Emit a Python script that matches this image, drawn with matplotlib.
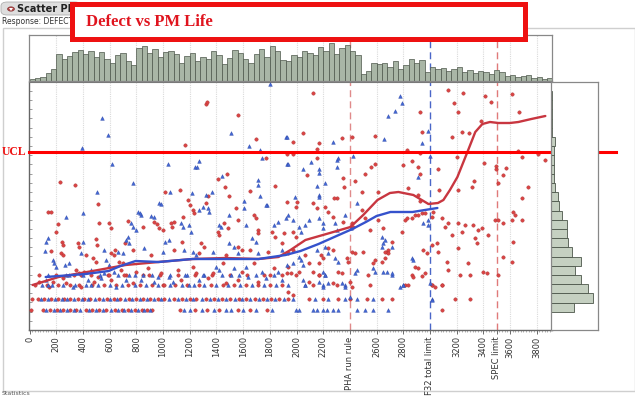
import matplotlib
matplotlib.use("Agg")
import matplotlib.pyplot as plt
from matplotlib.patches import Rectangle, FancyBboxPatch, Circle, Polygon
import numpy as np

W, H = 635, 397

# ---------------- data ----------------
# bottom row of discrete defects
red_r1_x = [7, 100, 150, 205, 250, 300, 345, 420, 470, 520, 575, 640, 690, 735, 790, 840, 880, 920,
            1130, 1240, 1330, 1420, 1560, 1650, 1780, 3093]
blue_r1_x = [125, 180, 230, 280, 330, 380, 445, 500, 550, 610, 665, 710, 760, 815, 860, 900, 1160, 1200,
             1290, 1380, 1470, 1510, 1600, 1700, 1820, 1993, 2015, 2120, 2157, 2195, 2232, 2270, 2314,
             2457, 2517, 2577, 2689]
row1_y = 20
red_r2_x = [20, 60, 110, 160, 215, 260, 300, 360, 410, 455, 520, 580, 630, 680, 745, 800, 850, 905, 960,
            1010, 1080, 1140, 1200, 1250, 1320, 1380, 1440, 1500, 1570, 1620, 1690, 1750, 1810, 1870,
            1940, 2090, 2195, 2314, 2404, 2532, 2644, 2719, 3191, 3303]
blue_r2_x = [85, 135, 190, 240, 280, 330, 390, 435, 490, 550, 605, 655, 715, 770, 825, 880, 935, 985,
             1045, 1110, 1170, 1225, 1290, 1350, 1410, 1470, 1540, 1595, 1655, 1720, 1780, 1840, 1905,
             1970, 2142, 2239, 2367, 2457, 2577, 3018]
row2_y = 31
red_r3_x = [40, 130, 210, 300, 370, 470, 560, 650, 740, 830, 920, 1000, 1090, 1180, 1270, 1360, 1450,
            1530, 1620, 1710, 1800, 1890, 2127, 2307, 2554, 2816, 3018, 3093]
blue_r3_x = [90, 170, 250, 340, 420, 510, 600, 690, 790, 870, 960, 1050, 1140, 1230, 1310, 1400, 1490,
             1580, 1670, 1760, 1850, 1940, 2067, 2202, 2367, 2801]
row3_y = 45
red_r4_x = [70, 200, 330, 460, 590, 720, 850, 980, 1110, 1240, 1370, 1500, 1630, 1760, 1890, 2165, 2539,
            3228, 3303, 3513]
blue_r4_x = [140, 270, 400, 530, 660, 790, 920, 1050, 1180, 1310, 1440, 1570, 1700, 1830, 2217, 2719]
row4_y = 55

red_pts = [
    (225, 148), (337, 145), (1318, 226), (1330, 228), (1565, 215), (1161, 185), (1693, 191), (1932, 176),
    (1775, 172), (1408, 151), (1476, 156), (1842, 144), (1461, 143), (1011, 138), (1124, 140), (1648, 139),
    (1333, 134), (1491, 134), (1183, 130), (509, 126), (1198, 125),
    (2120, 237), (3138, 240), (3251, 237), (3183, 227), (3213, 218), (3416, 234), (3461, 228), (3618, 236),
    (3670, 218), (2929, 218), (3386, 209), (3243, 198), (3296, 197), (2944, 198), (3168, 193), (2592, 194),
    (2045, 197), (1970, 188), (1977, 176), (2165, 187), (2344, 192), (2419, 193), (2157, 181), (2831, 180),
    (2929, 177), (3663, 179), (3693, 173), (3813, 176), (3865, 170), (2157, 172), (2592, 166), (2562, 163),
    (2082, 155), (2352, 152), (2442, 149), (2517, 156), (2801, 165), (2869, 169), (2914, 163), (2929, 156),
    (3063, 161), (3206, 173), (3408, 167), (3498, 164), (3498, 161), (3573, 162), (3551, 155), (3333, 149),
    (3213, 140), (3513, 147), (3738, 143), (3693, 132), (3071, 140), (2839, 142), (2494, 138), (2614, 138),
    (2359, 143), (2307, 132), (2284, 132), (2000, 128), (2914, 135), (2929, 129), (3318, 143),
    (135, 118), (157, 118), (210, 106), (195, 98), (240, 88), (247, 85), (157, 79), (232, 77), (247, 75),
    (360, 87), (367, 83), (345, 60), (382, 55), (404, 58), (472, 72), (494, 68), (494, 91), (502, 85),
    (517, 107), (607, 77), (629, 75), (667, 68), (697, 67), (712, 87), (592, 107), (607, 102), (734, 109),
    (846, 103), (929, 108), (951, 106), (966, 102), (996, 100), (1056, 107), (1079, 108), (1064, 103),
    (1146, 113), (1221, 120), (1228, 117), (1318, 127), (1281, 87), (1303, 83), (1139, 88), (1408, 98),
    (1416, 95), (1453, 107), (1483, 102), (1543, 122), (1565, 110), (1565, 83), (1595, 80), (1678, 115),
    (1693, 112), (1708, 100), (1715, 97), (1820, 98), (1842, 93), (1895, 87), (1903, 97),
    (67, 48), (142, 43), (172, 48), (247, 52), (270, 47), (367, 57), (382, 43), (479, 48), (509, 53),
    (592, 55), (607, 50), (682, 60), (704, 55), (771, 47), (794, 58), (884, 62), (891, 55), (981, 57),
    (1004, 45), (1109, 60), (1131, 50), (1221, 63), (1243, 57), (1333, 52), (1371, 57), (1446, 67),
    (1468, 47), (1565, 50), (1595, 58), (1678, 67), (1708, 48), (1805, 55), (1828, 62), (1932, 57), (1940, 63),
    (419, 75), (637, 80), (771, 80), (906, 75), (1079, 80), (1266, 77), (1468, 75), (1655, 80), (1783, 78),
    (1932, 128), (1993, 123), (1977, 98), (1993, 93), (2127, 127), (2157, 122), (2217, 123), (2239, 118),
    (2277, 113), (2352, 108), (2419, 107), (2427, 103), (2494, 120), (2517, 112), (2554, 100), (2614, 110),
    (2652, 102), (2682, 78), (2689, 80), (2719, 88), (2794, 98), (2816, 110), (2831, 112), (2869, 112),
    (2891, 115), (2914, 115), (2944, 117), (2966, 117), (3026, 118), (3018, 113), (3093, 112), (3116, 103),
    (3138, 107), (3168, 95), (3213, 107), (3243, 98), (3266, 105), (3326, 105), (3341, 92), (3363, 100),
    (3393, 102), (3438, 95), (3491, 110), (3513, 110), (3551, 107), (3618, 110), (3641, 115), (3693, 110),
    (3626, 118), (3626, 88), (3213, 82), (3356, 87), (3018, 85), (3056, 87), (3063, 78), (3131, 68),
    (3138, 60), (3288, 67), (3401, 58), (3431, 57), (3551, 73), (3618, 68), (3018, 45), (3041, 43),
    (3093, 45), (2944, 54), (2966, 57), (2869, 55), (2876, 53), (2891, 63), (2914, 62), (2951, 80),
    (2981, 77), (2839, 45), (2667, 78), (2689, 77), (2644, 68), (2667, 72), (2592, 70), (2577, 67),
    (2502, 78), (2419, 78), (2442, 77), (2419, 43), (2314, 58), (2344, 57), (2382, 72), (2389, 68),
    (2239, 82), (2270, 80), (2180, 75), (2202, 72), (2165, 67), (2120, 58), (2165, 55), (2067, 75),
    (2090, 67), (1955, 57), (1993, 55), (2015, 58), (1940, 77), (1977, 80), (2090, 48), (2270, 47),
    (2404, 48), (1940, 38), (1977, 35),
]
blue_pts = [
    (539, 212), (584, 195), (390, 182), (614, 166), (502, 138), (771, 147), (1506, 197), (1805, 246),
    (1641, 184), (1730, 180), (1918, 193), (1932, 193), (1738, 172), (1932, 166), (1034, 166), (1266, 169),
    (1236, 163), (1251, 163), (1438, 154), (1708, 150), (1715, 145), (1049, 138), (1213, 137), (1363, 138),
    (1318, 135), (1730, 134), (1603, 129), (966, 127), (1782, 125),
    (2779, 234), (2794, 227), (2741, 219), (2689, 214), (2989, 199), (2944, 187), (2659, 191), (2270, 188),
    (2307, 170), (2314, 172), (2427, 174), (3004, 174), (1940, 166), (2105, 168), (2052, 161), (2165, 161),
    (2172, 157), (2300, 163), (2914, 153), (2457, 127), (2217, 147), (2157, 144), (2165, 135), (2172, 133),
    (1985, 133),
    (270, 113), (397, 117), (135, 92), (120, 88), (112, 79), (172, 70), (180, 67), (195, 63), (262, 65),
    (292, 67), (397, 88), (457, 60), (569, 70), (592, 65), (659, 78), (719, 90), (734, 93), (742, 87),
    (756, 107), (771, 103), (794, 100), (831, 115), (809, 118), (824, 117), (981, 126), (906, 114),
    (929, 113), (1011, 88), (1041, 90), (1131, 107), (1146, 103), (1191, 105), (1206, 98), (1266, 120),
    (1296, 123), (1333, 122), (1341, 118), (1221, 78), (1243, 75), (1416, 105), (1431, 103), (1491, 115),
    (1491, 87), (1528, 83), (1603, 122), (1618, 105), (1670, 92), (1693, 88), (1768, 125), (1828, 105),
    (1865, 108), (1918, 112), (1940, 115),
    (120, 50), (135, 45), (292, 55), (322, 43), (434, 50), (457, 45), (532, 52), (554, 57), (629, 58),
    (644, 43), (719, 50), (742, 55), (831, 50), (846, 55), (929, 48), (959, 53), (1041, 53), (1071, 48),
    (1168, 55), (1191, 45), (1266, 50), (1296, 55), (1393, 63), (1416, 60), (1506, 55), (1528, 62),
    (1618, 63), (1640, 53), (1745, 58), (1768, 52), (1865, 58), (1895, 50),
    (382, 77), (554, 80), (697, 77), (854, 82), (996, 78), (1154, 80), (1371, 78), (1558, 77), (1715, 77),
    (1895, 80),
    (1970, 110), (2015, 103), (2030, 98), (2067, 105), (2090, 110), (2165, 112), (2195, 107), (2202, 102),
    (2292, 107), (2307, 100), (2367, 115), (2412, 102), (2644, 93), (2667, 90), (2719, 83), (2951, 107),
    (2989, 110), (2989, 105), (3004, 47), (3018, 30), (2869, 72), (2876, 70), (2779, 43), (2801, 45),
    (2644, 83), (2652, 87), (2652, 58), (2682, 58), (2719, 57), (2577, 62), (2592, 58), (2442, 57),
    (2457, 60), (2404, 33), (2292, 72), (2314, 68), (2217, 83), (2239, 77), (2157, 80), (2195, 58),
    (2217, 55), (2015, 73), (2030, 70), (2052, 65), (1977, 67), (1932, 65), (2045, 50), (2067, 45),
    (2165, 48), (2202, 43), (2239, 47), (2344, 47), (2367, 43),
]

# smoother fit curves
red_fit_x = [22, 217, 472, 719, 966, 1221, 1468, 1715, 1865, 1955, 2067, 2250, 2404, 2500, 2607, 2700,
             2764, 2876, 2989, 3060, 3101, 3150, 3206, 3281, 3340, 3393, 3450, 3513, 3600, 3663, 3760, 3865]
red_fit_y = [45, 53, 59, 65, 68, 71, 72, 71, 73, 80, 90, 97, 103, 115, 130, 137, 138, 135, 126, 127,
             130, 140, 153, 178, 198, 206, 208, 207, 207, 208, 211, 214]
blue_fit_x = [120, 419, 592, 680, 794, 966, 1221, 1468, 1715, 1918, 2030, 2165, 2300, 2419, 2520, 2600,
              2704, 2869, 3056]
blue_fit_y = [53, 56, 59, 64, 69, 68, 71, 71, 71, 75, 79, 86, 94, 101, 108, 114, 118, 118, 122]

UCL = 178
ref_lines = [2400, 3000, 3500]
ref_colors = ['#e08a8a', '#4a66c8', '#e07a7a']

tick_vals = [0, 200, 400, 600, 800, 1000, 1200, 1400, 1600, 1800, 2000, 2200, 2400, 2600, 2800, 3000,
             3200, 3400, 3500, 3600, 3800]
tick_labels = ['0', '200', '400', '600', '800', '1000', '1200', '1400', '1600', '1800', '2000', '2200',
               'PHA run rule', '2600', '2800', 'F32 total limit', '3200', '3400', 'SPEC limit', '3600', '3800']

# marginal histogram of PM life (bin width 40)
top_bin_width = 40
top_counts = [2, 3, 4, 8, 12, 27, 22, 25, 29, 31,
              27, 30, 24, 29, 22, 18, 26, 28, 20, 16,
              33, 35, 28, 32, 24, 29, 30, 27, 18, 25,
              28, 20, 24, 22, 30, 26, 17, 23, 31, 28,
              22, 18, 27, 32, 24, 35, 30, 21, 20, 26,
              24, 30, 28, 26, 34, 30, 38, 27, 33, 36,
              30, 26, 7, 10, 18, 17, 18, 14, 20, 12,
              16, 22, 18, 21, 9, 14, 12, 13, 10, 12,
              14, 9, 11, 8, 10, 9, 7, 11, 9, 5,
              6, 4, 5, 6, 3, 4, 2, 3]
# marginal histogram of defects (bin height 9.2)
right_bin_start = 18.3
right_bin_height = 9.2
right_counts = [23, 42, 37, 30, 24, 30, 21, 17, 16, 16, 11, 8, 7, 4, 3, 3, 3, 3, 4, 1, 1, 1, 1, 1]

# ---------------- figure ----------------
fig = plt.figure(figsize=(W / 100, H / 100), dpi=100)
fig.patch.set_facecolor('white')


def fbox(x0, y0, x1, y1):
    return [x0 / W, 1 - y1 / H, (x1 - x0) / W, (y1 - y0) / H]


XMIN, XMAX = -5, 3915
YMIN, YMAX = 0, 248

ax = fig.add_axes(fbox(29, 82, 552, 330))
axt = fig.add_axes(fbox(29, 35, 552, 81))
axr = fig.add_axes(fbox(551, 82, 598, 330))

# scatter
for v in tick_vals:
    if v > 0 and v not in ref_lines:
        ax.axvline(v, color='#dadada', lw=0.8, ls=(0, (1, 1)), zorder=0)
        axt.axvline(v, color='#dadada', lw=0.8, ls=(0, (1, 1)), zorder=0)
for v, c in zip(ref_lines, ref_colors):
    ax.axvline(v, color=c, lw=1.0, ls=(0, (5, 3)), zorder=1)
    axt.axvline(v, color=c, lw=1.0, ls=(0, (5, 3)), zorder=0)

rx = red_r1_x + red_r2_x + red_r3_x + red_r4_x + [p[0] for p in red_pts]
ry = ([row1_y] * len(red_r1_x) + [row2_y] * len(red_r2_x) + [row3_y] * len(red_r3_x)
      + [row4_y] * len(red_r4_x) + [p[1] for p in red_pts])
bx = blue_r1_x + blue_r2_x + blue_r3_x + blue_r4_x + [p[0] for p in blue_pts]
by = ([row1_y] * len(blue_r1_x) + [row2_y] * len(blue_r2_x) + [row3_y] * len(blue_r3_x)
      + [row4_y] * len(blue_r4_x) + [p[1] for p in blue_pts])

ax.scatter(rx, ry, s=6, marker='o', facecolor='#d94444', edgecolor='#b03030', linewidths=0.3, zorder=3)
ax.scatter(bx, by, s=7, marker='^', facecolor='#4066d4', edgecolor='#2f48a8', linewidths=0.3, zorder=3)

ax.plot(red_fit_x, red_fit_y, color='#c83640', lw=1.7, zorder=4, solid_capstyle='round')
ax.plot(blue_fit_x, blue_fit_y, color='#3552cc', lw=1.7, zorder=4, solid_capstyle='round')

ax.axhline(UCL, xmin=0, xmax=(616 - 29) / (552 - 29), color='#ff0000', lw=2.2, clip_on=False, zorder=6)

ax.set_xlim(XMIN, XMAX)
ax.set_ylim(YMIN, YMAX)
ax.set_xticks(tick_vals)
ax.set_xticklabels(tick_labels, rotation=90, fontsize=6, color='#333333', family='DejaVu Sans')
ax.set_xticks(np.arange(0, 3901, 20), minor=True)
ax.tick_params(axis='x', which='major', length=3, width=0.6, color='#555555', pad=1.5)
ax.tick_params(axis='x', which='minor', length=1.5, width=0.4, color='#777777')
ax.set_yticks(np.arange(0, 248, 9.2))
ax.tick_params(axis='y', which='major', direction='in', length=2, width=0.5, color='#777777', labelleft=False)
for s in ['left', 'bottom']:
    ax.spines[s].set_color('#666666')
    ax.spines[s].set_linewidth(1.0)
ax.spines['top'].set_color('#777777')
ax.spines['top'].set_linestyle((0, (1, 1)))
ax.spines['right'].set_color('#888888')

# top histogram
top_edges = np.arange(len(top_counts)) * top_bin_width
axt.bar(top_edges, top_counts, width=top_bin_width, align='edge', color='#a9b6a6',
        edgecolor='#4c564a', linewidth=0.5, zorder=2)
axt.set_xlim(XMIN, XMAX)
axt.set_ylim(0, 46)
axt.set_xticks([])
axt.set_yticks([])
for s in axt.spines.values():
    s.set_color('#888888')
    s.set_linewidth(0.9)

# right histogram
r_edges = right_bin_start + np.arange(len(right_counts)) * right_bin_height
axr.barh(r_edges, right_counts, height=right_bin_height, align='edge', color='#c5d0c1',
         edgecolor='#4c564a', linewidth=0.6, zorder=2)
axr.set_ylim(YMIN, YMAX)
axr.set_xlim(0, 47)
axr.set_xticks([])
axr.set_yticks([])
for s in axr.spines.values():
    s.set_color('#888888')
    s.set_linewidth(0.9)

# outline frame of the report
fig.add_artist(Rectangle((3 / W, 1 - 391 / H), (W - 3) / W, (391 - 28) / H, transform=fig.transFigure,
                         fill=False, edgecolor='#cfcfcf', lw=1.0, zorder=0))

# header tab
fig.add_artist(FancyBboxPatch((1 / W, 1 - 15 / H), 80 / W, 13 / H, boxstyle='round,pad=0,rounding_size=0.01',
                              transform=fig.transFigure, facecolor='#dedede', edgecolor='#b0b0b0', lw=0.6, zorder=1))
fig.add_artist(Circle((11 / W, 1 - 9 / H), 3.5 / W, transform=fig.transFigure, facecolor='#b04848',
                      edgecolor='#803030', lw=0.4, zorder=2))
fig.add_artist(Polygon([(9 / W, 1 - 8 / H), (13 / W, 1 - 8 / H), (11 / W, 1 - 11 / H)], closed=True,
                       transform=fig.transFigure, facecolor='white', edgecolor='none', zorder=3))
fig.text(17 / W, 1 - 9 / H, 'Scatter Plot', fontsize=7, fontweight='bold', color='#222222',
         va='center', ha='left', zorder=2)
fig.text(2 / W, 1 - 22 / H, 'Response: DEFECT', fontsize=5.5, color='#333333', va='center', ha='left', zorder=2)
fig.text(2 / W, 1 - 393.5 / H, 'Statistics', fontsize=4.5, color='#555555', va='center', ha='left', zorder=2)

# title box
fig.add_artist(Rectangle((71.5 / W, 1 - 39 / H), (524.5 - 71.5) / W, (39 - 4) / H, transform=fig.transFigure,
                         facecolor='white', edgecolor='#ee1111', lw=3.6, zorder=10))
fig.text(86 / W, 1 - 21.5 / H, 'Defect vs PM Life', fontsize=12, fontweight='bold', color='#e0141e',
         family='Liberation Serif', va='center', ha='left', zorder=11)

# UCL label
fig.text(2 / W, 1 - 152 / H, 'UCL', fontsize=8.5, fontweight='bold', color='#ee1111',
         family='Liberation Serif', va='center', ha='left', zorder=11)

fig.savefig('out.png', dpi=100, facecolor='white')
